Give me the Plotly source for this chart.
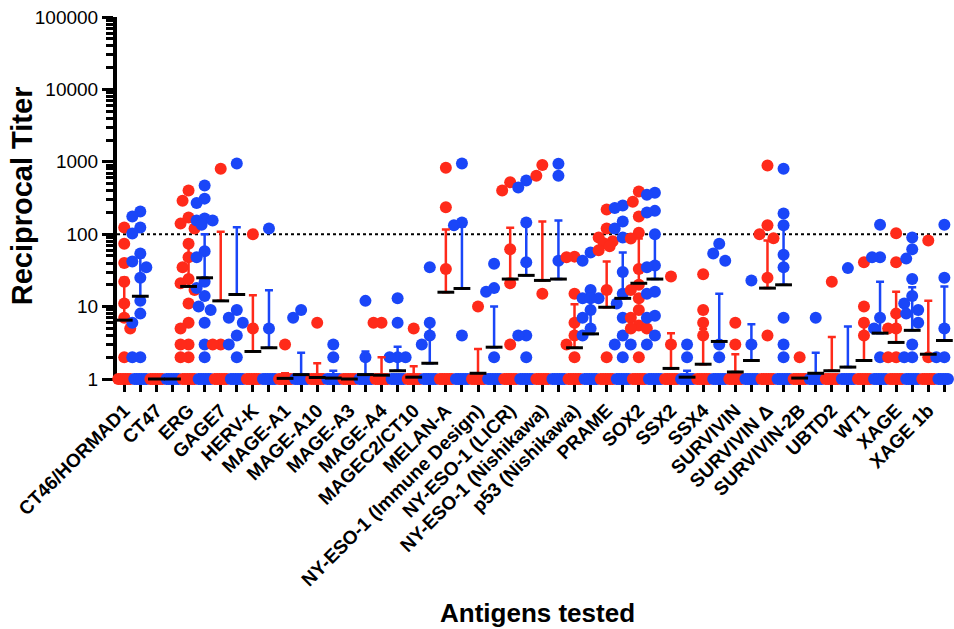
import math
import plotly.graph_objects as go

antigens = ["CT46/HORMAD1", "CT47", "ERG", "GAGE7", "HERV-K", "MAGE-A1", "MAGE-A10",
            "MAGE-A3", "MAGE-A4", "MAGEC2/CT10", "MELAN-A", "NY-ESO-1 (Immune Design)",
            "NY-ESO-1 (LICR)", "NY-ESO-1 (Nishikawa)", "p53 (Nishikawa)", "PRAME", "SOX2",
            "SSX2", "SSX4", "SURVIVIN", "SURVIVIN Δ", "SURVIVIN-2B", "UBTD2", "WT1",
            "XAGE", "XAGE 1b"]

# titers above 1 (each group also has many samples at titer 1)
red_titers = [
    [124, 74, 72, 40, 36, 22, 11, 10, 7, 6, 5, 2],
    [],
    [400, 290, 170, 140, 120, 74, 48, 35, 24, 21, 17, 11, 6, 5, 3, 3, 2, 2],
    [800, 3, 3],
    [100, 5],
    [3],
    [6],
    [],
    [6, 6],
    [5],
    [830, 235, 33],
    [10],
    [520, 400, 62, 21, 3],
    [900, 640, 15],
    [49, 48, 15, 6, 4, 3, 2],
    [220, 120, 90, 80, 75, 68, 60, 17, 2],
    [390, 280, 175, 105, 87, 33, 20, 17, 13, 9, 7, 5.5, 5, 5, 2],
    [26, 3],
    [28, 9, 6, 4],
    [6, 3],
    [890, 133, 100, 88, 25, 4],
    [2],
    [22],
    [41, 10, 6, 4],
    [103, 41, 8, 5, 5, 2, 2],
    [82, 2],
]
blue_titers = [
    [206, 175, 124, 102, 54, 42, 35, 25, 12, 8, 6, 2, 2],
    [],
    [470, 310, 270, 165, 155, 155, 135, 58, 48, 22, 18, 14, 10, 9, 6, 3, 2],
    [950, 9, 7, 6, 4, 3, 2],
    [120, 5],
    [9, 7],
    [3, 2],
    [12, 2],
    [13, 6, 2, 2, 2],
    [35, 6, 4, 3],
    [950, 145, 133, 4],
    [39, 18, 16, 2],
    [550, 440, 145, 41, 4, 4, 2],
    [940, 640, 43],
    [56, 43, 17, 13, 13, 13, 9, 7, 5, 4],
    [250, 230, 150, 120, 90, 30, 15, 11, 7, 4, 3, 3, 2],
    [375, 350, 210, 200, 100, 37, 35, 16, 15, 7.5, 7, 4, 3],
    [3, 2],
    [74, 54, 43, 3, 2],
    [23, 3],
    [800, 193, 133, 52, 35, 7, 3, 2],
    [7],
    [34],
    [135, 48, 48, 7, 5, 2],
    [90, 62, 46, 24, 14, 11, 9, 8, 6, 3, 2, 2],
    [135, 25, 5, 2, 2],
]
red_ones = [6] * 26
blue_ones = [6] * 26

red_median = [6.5, 1, 19, 12, 2.4, 1.02, 1.05, 1, 1.13, 1.06, 15.8, 1.2, 24, 23, 2.7, 9.8,
              21, 1.4, 1.6, 1.25, 18, 1.03, 1.3, 1.8, 3.2, 2.2]
red_upper = [25, 1, 82, 108, 14.3, 1.2, 1.65, 1, 2.0, 1.5, 116, 2.6, 123, 150, 10.8, 42,
             87, 4.3, 4.9, 2.2, 82, 1.03, 3.8, 6.7, 16, 12]
blue_median = [13.9, 1, 25, 14.7, 2.7, 1.15, 1.03, 1.15, 1.3, 1.65, 17.8, 2.75, 27, 24, 4.2,
               13, 24, 1.06, 3.3, 1.8, 20, 1.2, 1.46, 4.3, 4.7, 3.4]
blue_upper = [48, 1, 100, 125, 16.8, 2.3, 1.3, 2.4, 2.8, 6, 128, 10, 145, 155, 15, 56, 93,
              1.3, 15, 5.7, 133, 2.3, 5.3, 22, 18.5, 19]

y_ticks = [1, 10, 100, 1000, 10000, 100000]
threshold = 100

RED = "#ff2a1a"
BLUE = "#1a46f8"
FONT = "Liberation Sans, Arial, sans-serif"

# ---- geometry helpers (deterministic beeswarm spread) ----
PX_PER_UNIT = 16.08
PX_PER_DEC = 72.6
DOT = 12


def swarm(values):
    placed, offs = [], []
    for v in values:
        y = -math.log10(v) * PX_PER_DEC
        best, bestd = 0, -1
        for c in [0, -6, 6, -3, 3, -8, 8]:
            d = min([math.hypot(c - px, y - py) for px, py in placed], default=1e9)
            if d >= DOT - 1:
                best = c
                break
            if d > bestd:
                bestd, best = d, c
        placed.append((best, y))
        offs.append(best / PX_PER_UNIT)
    return offs


xs, ys, cols = [], [], []
for k in range(len(antigens)):
    for j, (vals, n1, color) in enumerate(((red_titers[k], red_ones[k], RED),
                                           (blue_titers[k], blue_ones[k], BLUE))):
        pos = 2 * k + j
        for i in range(n1):
            off = (-6 + 12 * i / max(n1 - 1, 1)) / PX_PER_UNIT
            xs.append(pos + off)
            ys.append(1)
            cols.append(color)
        for off, v in zip(swarm(vals), vals):
            xs.append(pos + off)
            ys.append(v)
            cols.append(color)

fig = go.Figure()

fig.add_trace(go.Scatter(x=[-0.45, 51.35], y=[threshold, threshold], mode="lines",
                         line=dict(color="black", width=2, dash="dot"),
                         hoverinfo="skip", showlegend=False))

fig.add_trace(go.Scatter(x=xs, y=ys, mode="markers",
                         marker=dict(size=DOT, color=cols, line=dict(width=0)),
                         cliponaxis=False, showlegend=False))

for j, (med, up, color) in enumerate(((red_median, red_upper, RED),
                                      (blue_median, blue_upper, BLUE))):
    px = [2 * k + j for k in range(len(antigens))]
    fig.add_trace(go.Scatter(
        x=px, y=med, mode="markers",
        marker=dict(size=1, color="rgba(0,0,0,0)"),
        error_y=dict(type="data", symmetric=False,
                     array=[u - m for u, m in zip(up, med)],
                     arrayminus=[0] * len(med), color=color, thickness=2.5, width=4),
        cliponaxis=False, showlegend=False))

all_x = [2 * k + j for k in range(len(antigens)) for j in (0, 1)]
all_med = [m for k in range(len(antigens)) for m in (red_median[k], blue_median[k])]
fig.add_trace(go.Scatter(x=all_x, y=all_med, mode="markers",
                         marker=dict(symbol="line-ew", size=12,
                                     line=dict(color="black", width=3)),
                         cliponaxis=False, showlegend=False))

ticktext = []
for a in antigens:
    ticktext += [a, ""]

minor_vals = [m * 10 ** e for e in range(5) for m in range(2, 10)]

fig.update_layout(
    width=954, height=629,
    margin=dict(l=117, r=4, t=17, b=250),
    paper_bgcolor="white", plot_bgcolor="white",
    font=dict(family=FONT, color="black"),
    xaxis=dict(range=[-0.45, 51.35], tickmode="array", tickvals=list(range(52)),
               ticktext=ticktext, tickangle=-45, ticks="outside", ticklen=10,
               tickwidth=3, tickcolor="black", showline=True, linewidth=3,
               linecolor="black", showgrid=False, zeroline=False, layer="below traces",
               tickfont=dict(family=FONT, size=19, weight="bold", color="black")),
    yaxis=dict(type="log", range=[0, 5], tickmode="array", tickvals=y_ticks,
               ticktext=[str(v) for v in y_ticks], ticks="outside", ticklen=11,
               tickwidth=3, tickcolor="black", showline=True, linewidth=4,
               linecolor="black", showgrid=False, zeroline=False, layer="below traces",
               minor=dict(tickmode="array", tickvals=minor_vals, ticks="outside",
                          ticklen=7, tickwidth=2.5, tickcolor="black", showgrid=False),
               tickfont=dict(family=FONT, size=19, color="black")),
    annotations=[
        dict(text="Antigens tested", xref="paper", yref="paper", x=0.505, y=-0.646,
             xanchor="center", yanchor="middle", showarrow=False,
             font=dict(family=FONT, size=26, weight="bold", color="black")),
        dict(text="Reciprocal Titer", xref="paper", yref="paper", x=-0.114, y=0.505,
             xanchor="center", yanchor="middle", textangle=-90, showarrow=False,
             font=dict(family=FONT, size=29, weight="bold", color="black")),
    ],
)

# remove the browser's default 8px page margin so the figure fills the window exactly
fig.write_html("out.html", config={"displayModeBar": False},
               post_script="document.body.style.margin='0';document.body.style.overflow='hidden';")
